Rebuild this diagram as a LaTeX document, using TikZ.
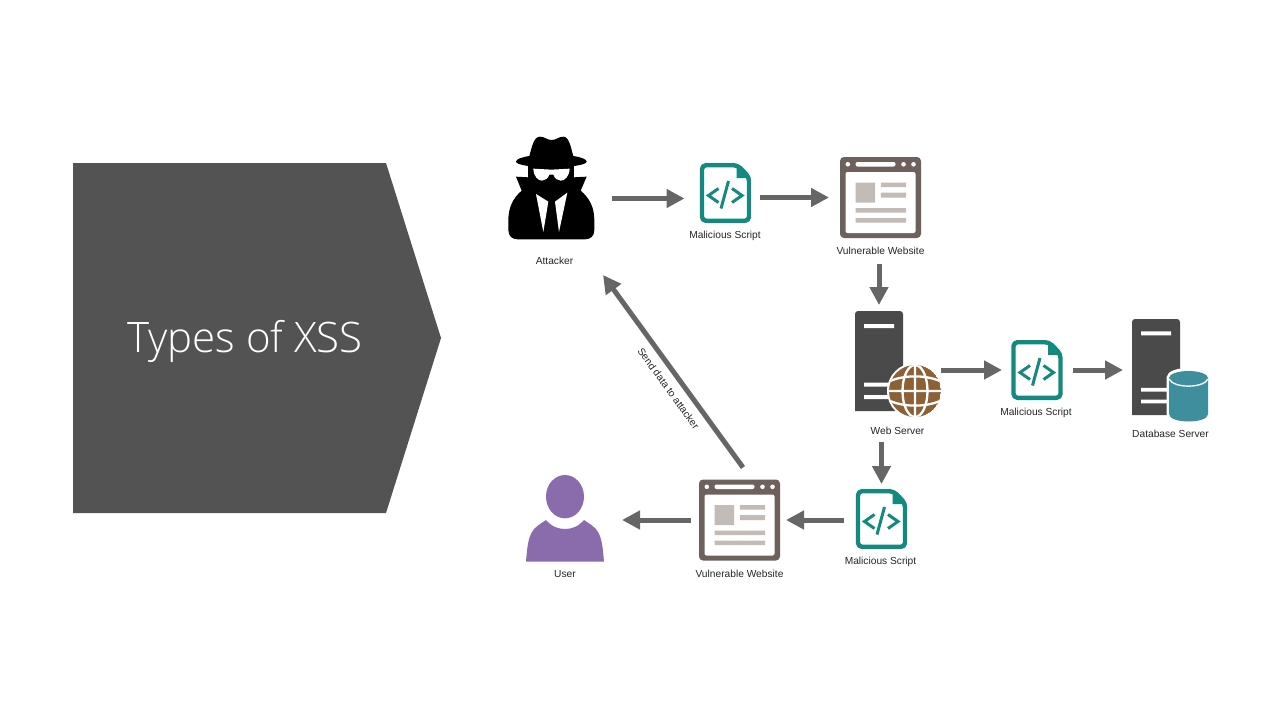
\documentclass[tikz,border=0pt]{standalone}
\usepackage{fontspec}
\setmainfont{Liberation Sans}
\newfontfamily\titlefont{Open Sans Light}
\usetikzlibrary{arrows.meta}
\definecolor{slab}{HTML}{535353}
\definecolor{flowgray}{HTML}{666666}
\definecolor{scriptteal}{HTML}{14897F}
\definecolor{webbrown}{HTML}{6E615C}
\definecolor{webgray}{HTML}{C2BBB6}
\definecolor{towergray}{HTML}{4A4A4A}
\definecolor{globebrown}{HTML}{8E6035}
\definecolor{dbteal}{HTML}{3F8E9E}
\definecolor{userpurple}{HTML}{8A6BAC}
\tikzset{
  flow/.style={draw=flowgray,line width=5pt,-{Triangle[length=18pt,width=18pt]}},
  lbl/.style={font=\fontsize{10.2}{12}\selectfont,text=black!85,inner sep=0pt},
  iconbox/.style n args={2}{inner sep=0pt,outer sep=0pt,minimum width=#1,minimum height=#2},
  pics/scripticon/.style={code={
    \draw[scriptteal,line width=4.4pt,line join=round,fill=white,rounded corners=4pt]
      (-23.5,-27.8) -- (12,-27.8) -- (23.5,-16) -- (23.5,27.8) -- (-23.5,27.8) -- cycle;
    \fill[scriptteal] (11,-29) -- (25,-15) -- (11,-15) -- cycle;
    \draw[scriptteal,line width=3pt,line join=miter]
      (-7,-4.5) -- (-17,2.5) -- (-7,9.5) (6.5,-4.5) -- (16.5,2.5) -- (6.5,9.5)
      (3,-12) -- (-4.5,15.5);
  }},
  pics/webicon/.style={code={
    \fill[webbrown,rounded corners=4pt] (-40.5,-40.5) rectangle (40.5,40.5);
    \fill[white,rounded corners=2pt] (-35,-25.5) rectangle (35,35.5);
    \fill[white,rounded corners=2pt] (-25,-35.5) rectangle (15,-31);
    \fill[white] (-32.7,-33.2) circle (2.3) (23,-33.2) circle (2.3) (33,-33.2) circle (2.3);
    \fill[webgray] (-25,-15) rectangle (-5.3,5)
      (0.3,-15) rectangle (25.7,-10.5) (0.3,-5) rectangle (25.7,0)
      (-25,10.5) rectangle (25.7,15) (-25,20.5) rectangle (25.7,25);
  }},
  pics/towericon/.style={code={
    \fill[towergray,rounded corners=3pt] (-24,50) -- (-24,-50) -- (24,-50) -- (24,50) [sharp corners] -- cycle;
    \fill[white] (-15,-37) rectangle (15,-33) (-15,21.7) rectangle (15,25.7) (-15,34) rectangle (15,38);
  }}
}
\begin{document}
\begin{tikzpicture}[x=1pt,y=-1pt]
\useasboundingbox[fill=white] (0,0) rectangle (1276,717);

% left banner
\fill[slab] (73,163) -- (386,163) -- (441,338) -- (386,513) -- (73,513) -- cycle;
\node[text=white,font=\titlefont\fontsize{42}{48}\selectfont,inner sep=0pt,anchor=base] (title) at (245,352) {Types of XSS};

% anchors for the icons
\node[iconbox={88pt}{83pt}] (attacker) at (552,198.5) {};
\node[iconbox={48pt}{56pt}] (script1) at (725.5,193) {};
\node[iconbox={81pt}{81pt}] (web1) at (880.5,197.5) {};
\node[iconbox={48pt}{100pt}] (server) at (879,361) {};
\node[iconbox={52pt}{60pt}] (script2) at (1037,370) {};
\node[iconbox={48pt}{96pt}] (db) at (1156,367) {};
\node[iconbox={52pt}{60pt}] (script3) at (881.5,519) {};
\node[iconbox={81pt}{81pt}] (web2) at (739.5,520) {};
\node[iconbox={78pt}{87pt}] (user) at (565,518.5) {};

% attacker, zoomed coordinates
\begin{scope}[shift={(490,120)},x=0.3333pt,y=-0.3333pt]
\fill[black] (78,170) -- (115,172) -- (252,172) -- (290,170) -- (272,212)
  .. controls (300,235) and (313,265) .. (313,300) -- (313,330)
  .. controls (313,350) and (300,358) .. (285,358) -- (83,358)
  .. controls (68,358) and (55,350) .. (55,330) -- (55,300)
  .. controls (55,265) and (68,235) .. (95,212) -- cycle;
\fill[black] (115,130) rectangle (252,185);
\fill[black] (118,108) .. controls (125,85) and (130,50) .. (150,50)
  .. controls (165,50) and (170,60) .. (185,60) .. controls (200,60) and (205,50) .. (220,50)
  .. controls (238,50) and (243,85) .. (250,108)
  .. controls (275,112) and (290,118) .. (290,125) .. controls (290,135) and (240,142) .. (184,142)
  .. controls (128,142) and (78,135) .. (78,125) .. controls (78,118) and (93,112) .. (118,108) -- cycle;
\fill[white] (130,146) -- (184,149) -- (239,146) .. controls (238,170) and (224,182) .. (212,182)
  .. controls (202,182) and (194,175) .. (190,164) -- (178,164)
  .. controls (174,175) and (166,182) .. (156,182) .. controls (144,182) and (131,170) .. (130,146) -- cycle;
\fill[white] (138,222) -- (175,245) -- (160,336) -- cycle;
\fill[white] (232,218) -- (195,245) -- (207,336) -- cycle;
\end{scope}

% icons
\pic at (script1) {scripticon};
\pic at (script2) {scripticon};
\pic at (script3) {scripticon};
\pic at (web1) {webicon};
\pic at (web2) {webicon};
\pic at (server) {towericon};
\begin{scope}[shift={(db.center)},y=-0.96pt]
\pic {towericon};
\end{scope}

% globe
\begin{scope}[shift={(915,391)}]
\fill[white] (0,0) circle (28);
\begin{scope}
\clip (0,0) circle (26);
\fill[globebrown] (0,0) circle (26);
\draw[white,line width=2.3pt] (-27,0) -- (27,0) (0,-27) -- (0,27)
  (0,0) ellipse (12.5 and 26)
  (-27,-9) .. controls (-12,-16.5) and (12,-16.5) .. (27,-9)
  (-27,9) .. controls (-12,16.5) and (12,16.5) .. (27,9);
\end{scope}
\end{scope}

% database drum
\begin{scope}[shift={(1188.5,378)}]
\draw[white,line width=5pt,fill=white] (-19.5,0) -- (-19.5,36) .. controls (-19.5,46) and (19.5,46) .. (19.5,36) -- (19.5,0) .. controls (19.5,-10) and (-19.5,-10) .. (-19.5,0) -- cycle;
\fill[dbteal] (-19.5,0) -- (-19.5,36) .. controls (-19.5,46) and (19.5,46) .. (19.5,36) -- (19.5,0) -- cycle;
\fill[dbteal] (0,0) ellipse (19.5 and 7);
\draw[white!90!dbteal,line width=1.4pt] (-19.5,1) .. controls (-15,10.5) and (15,10.5) .. (19.5,1);
\end{scope}

% user
\begin{scope}[shift={(510,465)},x=0.3333pt,y=-0.3333pt]
\fill[userpurple] (165,95) ellipse (57 and 65);
\fill[userpurple] (48,290) .. controls (52,250) and (52,205) .. (82,183)
  .. controls (92,176) and (100,170) .. (108,165) .. controls (125,185) and (145,192) .. (165,192)
  .. controls (185,192) and (205,185) .. (222,165)
  .. controls (230,170) and (238,176) .. (248,183) .. controls (278,205) and (278,250) .. (282,290) -- cycle;
\end{scope}

% labels
\node[lbl] (lblattacker) at (554.5,260.7) {Attacker};
\node[lbl] (lblscript1) at (725,235.7) {Malicious Script};
\node[lbl] (lblweb1) at (880.5,251.2) {Vulnerable Website};
\node[lbl] (lblserver) at (897.5,430.7) {Web Server};
\node[lbl] (lblscript2) at (1036,412.7) {Malicious Script};
\node[lbl] (lbldb) at (1170.5,433.7) {Database Server};
\node[lbl] (lblscript3) at (880.5,561.7) {Malicious Script};
\node[lbl] (lblweb2) at (739.5,573.7) {Vulnerable Website};
\node[lbl] (lbluser) at (565,573.7) {User};
\node[lbl,rotate=-54] (lblsend) at (668.5,388.5) {Send data to attacker};

% connectors
\draw[flow,shorten <=16pt,shorten >=17pt] (attacker.east) -- (attacker.east -| script1.west);
\draw[flow,shorten <=10pt,shorten >=11pt] (script1.east |- web1.west) -- (web1.west);
\draw[flow,shorten <=26pt,shorten >=6pt] (web1.south -| server.north) -- (server.north);
\draw[flow,shorten <=38pt,shorten >=9pt] (server.east |- script2.west) -- (script2.west);
\draw[flow,shorten <=10pt,shorten >=9pt] (script2.east) -- (script2.east -| db.west);
\draw[flow,shorten <=31pt,shorten >=5pt] (server.south -| script3.north) -- (script3.north);
\draw[flow,shorten <=12pt,shorten >=6pt] (script3.west |- web2.east) -- (web2.east);
\draw[flow,shorten <=8pt,shorten >=18pt] (web2.west) -- (web2.west -| user.east);
\draw[flow] ([shift={(3.5,-12)}]web2.north) -- ([shift={(51,35)}]attacker.south);
\end{tikzpicture}
\end{document}
